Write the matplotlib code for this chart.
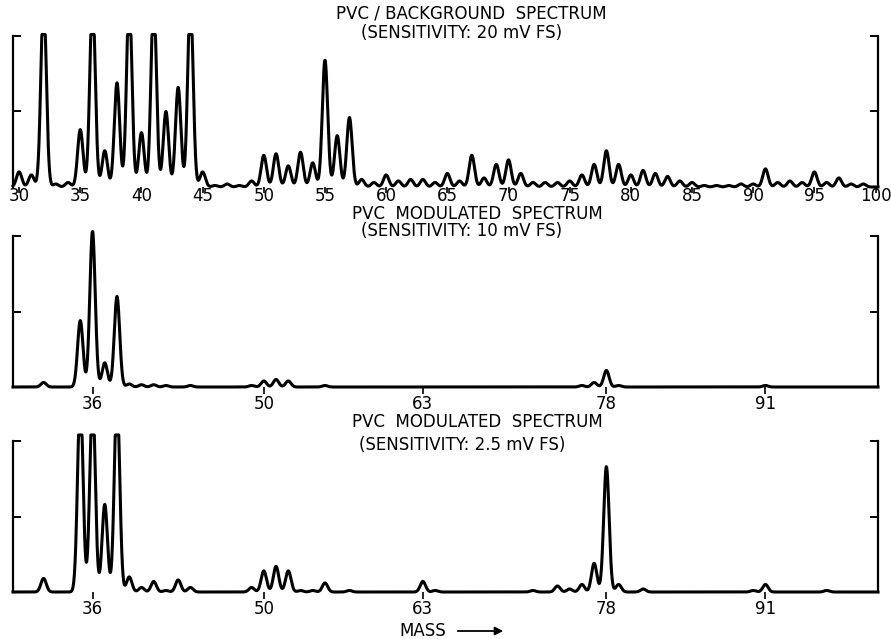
import numpy as np
import matplotlib
matplotlib.use("Agg")
from matplotlib import pyplot as plt

# peak heights, fraction of full scale (values > 1 are off scale / clipped)
bg_mass = [30, 31, 32, 33, 34, 35, 36, 37, 38, 39, 40, 41, 42, 43, 44, 45, 46, 47, 48, 49,
           50, 51, 52, 53, 54, 55, 56, 57, 58, 59, 60, 61, 62, 63, 64, 65, 66, 67, 68, 69,
           70, 71, 72, 73, 74, 75, 76, 77, 78, 79, 80, 81, 82, 83, 84, 85, 86, 87, 88, 89,
           90, 91, 92, 93, 94, 95, 96, 97, 98, 99]
bg_height = [0.10, 0.08, 1.25, 0.02, 0.03, 0.38, 1.25, 0.24, 0.69, 1.25, 0.36, 1.25, 0.50, 0.66, 1.25, 0.10, 0.01, 0.02, 0.01, 0.04,
             0.21, 0.22, 0.14, 0.23, 0.16, 0.84, 0.34, 0.46, 0.05, 0.03, 0.08, 0.04, 0.05, 0.05, 0.03, 0.09, 0.04, 0.21, 0.06, 0.15,
             0.18, 0.09, 0.03, 0.03, 0.03, 0.04, 0.08, 0.15, 0.24, 0.15, 0.08, 0.11, 0.09, 0.07, 0.04, 0.03, 0.01, 0.01, 0.01, 0.02,
             0.02, 0.12, 0.03, 0.04, 0.03, 0.10, 0.03, 0.06, 0.02, 0.02]

mod10_mass = [32, 35, 36, 37, 38, 39, 40, 41, 42, 44, 49, 50, 51, 52, 55, 76, 77, 78, 79, 91]
mod10_height = [0.03, 0.44, 1.03, 0.16, 0.60, 0.02, 0.015, 0.015, 0.01, 0.01, 0.01, 0.04, 0.05, 0.04, 0.01, 0.01, 0.03, 0.11, 0.01, 0.01]

mod25_mass = [32, 35, 36, 37, 38, 39, 40, 41, 42, 43, 44, 49, 50, 51, 52, 53, 54, 55, 57, 63, 64,
              72, 74, 75, 76, 77, 78, 79, 81, 90, 91, 96]
mod25_height = [0.09, 1.3, 1.3, 0.58, 1.3, 0.10, 0.03, 0.07, 0.01, 0.08, 0.03, 0.03, 0.14, 0.17, 0.14, 0.01, 0.01, 0.06, 0.01, 0.07, 0.01,
                0.01, 0.04, 0.02, 0.05, 0.19, 0.83, 0.05, 0.02, 0.01, 0.05, 0.01]

bg_ticks = list(range(30, 101, 5))
mod_ticks = [36, 50, 63, 78, 91]

titles = [("PVC / BACKGROUND  SPECTRUM", "(SENSITIVITY: 20 mV FS)"),
          ("PVC  MODULATED  SPECTRUM", "(SENSITIVITY: 10 mV FS)"),
          ("PVC  MODULATED  SPECTRUM", "(SENSITIVITY: 2.5 mV FS)")]

W, H = 891, 639
plt.rcParams['font.family'] = ['DejaVu Sans']
fig = plt.figure(figsize=(W / 100, H / 100), dpi=100)

xs = np.linspace(29.5, 100.2, 4000)
sigma = 0.22


def trace(mass, height, clip):
    y = np.zeros_like(xs)
    for m, h in zip(mass, height):
        y += h * np.exp(-0.5 * ((xs - m) / sigma) ** 2)
    return np.minimum(y, clip)


def panel(baseline, top, mass, height, clip, ticks, tlen, tpad):
    ymax = 1.08
    hpx = (baseline - top) * ymax
    ax = fig.add_axes([13 / W, (H - baseline) / H, 865 / W, hpx / H])
    ax.plot(xs, trace(mass, height, clip), color='black', lw=2.2, clip_on=False, solid_joinstyle='round')
    ax.set_xlim(29.5, 100.2)
    ax.set_ylim(0, ymax)
    for s in ['top', 'bottom']:
        ax.spines[s].set_visible(False)
    for s in ['left', 'right']:
        ax.spines[s].set_bounds(0, 1)
        ax.spines[s].set_linewidth(1.6)
    ax.set_yticks([0.5, 1.0])
    ax.tick_params(axis='y', left=True, right=True, labelleft=False, direction='in', length=6, width=1.4)
    ax.set_xticks(ticks)
    ax.set_xticklabels([str(t) for t in ticks])
    ax.tick_params(axis='x', direction='out', length=tlen, width=1.2, pad=tpad, labelsize=12)
    ax.patch.set_visible(False)
    return ax


panel(187, 36, bg_mass, bg_height, 1.01, bg_ticks, 4, -4)
panel(387, 236, mod10_mass, mod10_height, 1.03, mod_ticks, 5, 0.5)
panel(592, 441, mod25_mass, mod25_height, 1.04, mod_ticks, 5, 0.5)

title_y = [(13, 33), (214, 231), (422, 445)]
title_x = [(471, 462), (477, 462), (477, 462)]
for (t1, t2), (y1, y2), (x1, x2) in zip(titles, title_y, title_x):
    fig.text(x1 / W, 1 - y1 / H, t1, ha='center', va='center', fontsize=12)
    fig.text(x2 / W, 1 - y2 / H, t2, ha='center', va='center', fontsize=12)

fig.text(423 / W, 1 - 631 / H, "MASS", ha='center', va='center', fontsize=12)
fig.add_artist(matplotlib.patches.FancyArrowPatch((455 / W, 1 - 631 / H), (506 / W, 1 - 631 / H),
                                                  transform=fig.transFigure, arrowstyle='-|>',
                                                  mutation_scale=12, lw=1.3, color='black'))

fig.savefig("out.png", dpi=100, facecolor='white')
